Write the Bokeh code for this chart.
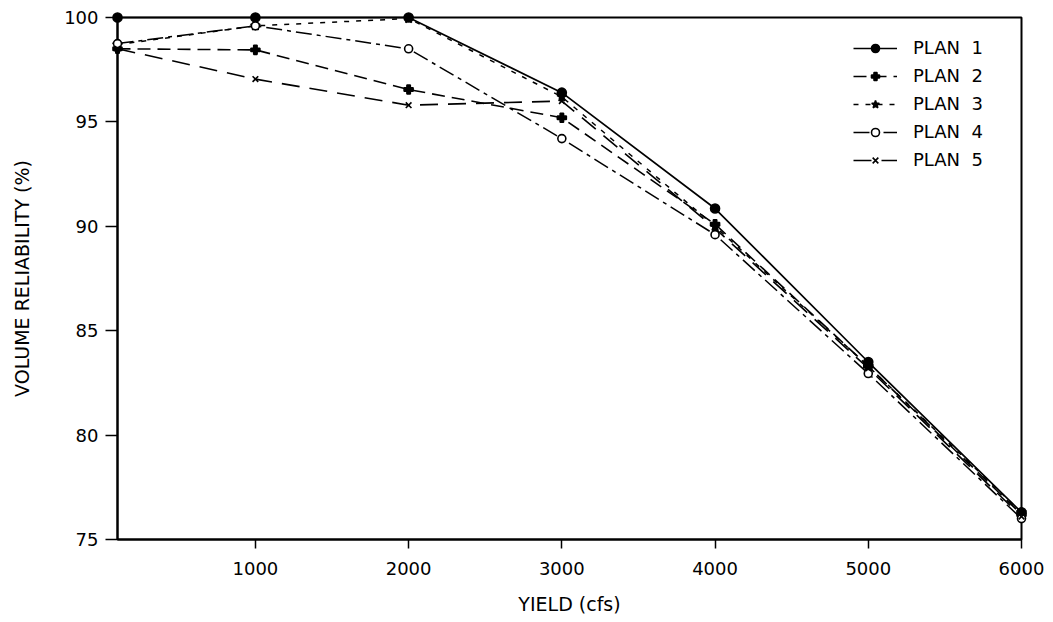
from bokeh.plotting import figure
from bokeh.models import Range1d, FixedTicker, Legend, LegendItem
from bokeh.embed import file_html
from bokeh.resources import INLINE

# ---- data ----
yield_cfs = [100, 1000, 2000, 3000, 4000, 5000, 6000]
plan1 = [100.0, 100.0, 100.0, 96.4, 90.85, 83.5, 76.3]
plan2 = [98.5, 98.45, 96.55, 95.2, 90.1, 83.3, 76.2]
plan3 = [98.7, 99.6, 99.95, 96.2, 90.0, 83.3, 76.3]
plan4 = [98.75, 99.6, 98.5, 94.2, 89.6, 82.95, 76.0]
plan5 = [98.5, 97.05, 95.8, 96.0, 89.9, 83.2, 76.1]
plan_names = ["PLAN  1", "PLAN  2", "PLAN  3", "PLAN  4", "PLAN  5"]
x_ticks = [1000, 2000, 3000, 4000, 5000, 6000]
y_ticks = [75, 80, 85, 90, 95, 100]

FONT = "DejaVu Sans"

p = figure(width=1045, height=614, output_backend="svg", toolbar_location=None,
           x_range=Range1d(100, 6000), y_range=Range1d(75, 100),
           min_border_left=117, min_border_right=24, min_border_top=17, min_border_bottom=75)
p.frame_width = 904
p.frame_height = 522

p.xgrid.visible = False
p.ygrid.visible = False
p.outline_line_color = "black"
p.outline_line_width = 2
p.background_fill_color = "white"
p.border_fill_color = "white"

# axes
for ax in (p.xaxis[0], p.yaxis[0]):
    ax.axis_line_width = 2
    ax.axis_line_color = "black"
    ax.major_tick_in = 0
    ax.minor_tick_in = 0
    ax.minor_tick_out = 0
    ax.major_tick_line_width = 1.5
    ax.major_label_text_font = FONT
    ax.major_label_text_font_size = "18px"
    ax.major_label_text_color = "black"
    ax.axis_label_text_font = FONT
    ax.axis_label_text_font_size = "19px"
    ax.axis_label_text_font_style = "normal"
    ax.axis_label_text_color = "black"

p.xaxis.ticker = FixedTicker(ticks=x_ticks)
p.yaxis.ticker = FixedTicker(ticks=y_ticks)
p.xaxis.major_tick_out = 9
p.yaxis.major_tick_out = 12
p.xaxis.major_label_standoff = 13
p.yaxis.major_label_standoff = 7
p.xaxis.axis_label = "YIELD (cfs)"
p.yaxis.axis_label = "VOLUME RELIABILITY (%)"
p.xaxis.axis_label_standoff = 15
p.yaxis.axis_label_standoff = 28

series = [plan1, plan2, plan3, plan4, plan5]
dashes = ["solid", "13 7", "5 7", "16 5 4 5", "18 10"]
widths = [1.7, 1.6, 1.5, 1.5, 1.6]
markers = ["circle", "plus", "star", "circle", "x"]
sizes = [9, 9, 10, 8, 8]
fills = ["black", "black", "black", "white", "black"]

items = []
for vals, name, dash, lw, mk, sz, fc in zip(series, plan_names, dashes, widths, markers, sizes, fills):
    lr = p.line(yield_cfs, vals, line_color="black", line_width=lw, line_dash=dash)
    sr = p.scatter(yield_cfs, vals, marker=mk, size=sz, fill_color=fc,
                   line_color="black", line_width=1.6)
    lr.level = "overlay"
    sr.level = "overlay"
    items.append(LegendItem(label=name, renderers=[lr, sr]))

legend = Legend(items=items, location=(736, 369))
legend.background_fill_alpha = 0
legend.border_line_color = None
legend.padding = 0
legend.margin = 0
legend.spacing = 7
legend.glyph_width = 44
legend.glyph_height = 20
legend.label_height = 20
legend.label_standoff = 16
legend.label_text_font = FONT
legend.label_text_font_size = "18px"
legend.label_text_color = "black"
p.add_layout(legend)

open("out.html", "w").write(file_html(p, INLINE))
